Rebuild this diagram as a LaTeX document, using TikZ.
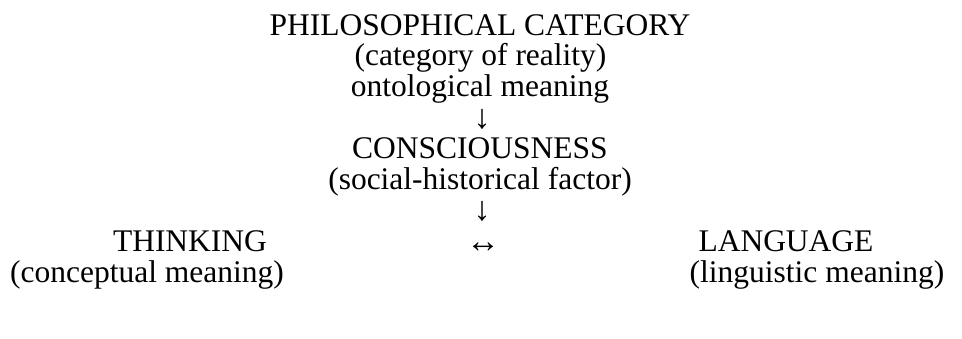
\documentclass[tikz,border=0pt]{standalone}
\usepackage{fontspec}
\setmainfont{Liberation Serif}
\begin{document}
\begin{tikzpicture}[x=1pt,y=-1pt,
  txt/.style={inner sep=0pt, anchor=base, font=\fontsize{31.5}{31.5}\selectfont},
  arrowglyph/.style={inner sep=0pt, anchor=base, font=\fontsize{34}{34}\selectfont}]
\useasboundingbox (0,0) rectangle (962,338);
\node[txt] (phil) at (480,35) {PHILOSOPHICAL CATEGORY};
\node[txt] (real) at (480.5,65.9) {(category of reality)};
\node[txt] (onto) at (480,96.8) {ontological meaning};
\node[arrowglyph] (arr1) at (482,128.7) {↓};
\node[txt] (cons) at (480,158.6) {CONSCIOUSNESS};
\node[txt] (soc) at (480,189.5) {(social-historical factor)};
\node[arrowglyph] (arr2) at (482,220.8) {↓};
\node[txt] (think) at (190,251.3) {THINKING};
\node[arrowglyph] (arr3) at (483,252) {↔};
\node[txt] (lang) at (786,251.3) {LANGUAGE};
\node[txt] (conc) at (147,282.2) {(conceptual meaning)};
\node[txt] (ling) at (817,282.2) {(linguistic meaning)};
\end{tikzpicture}
\end{document}
